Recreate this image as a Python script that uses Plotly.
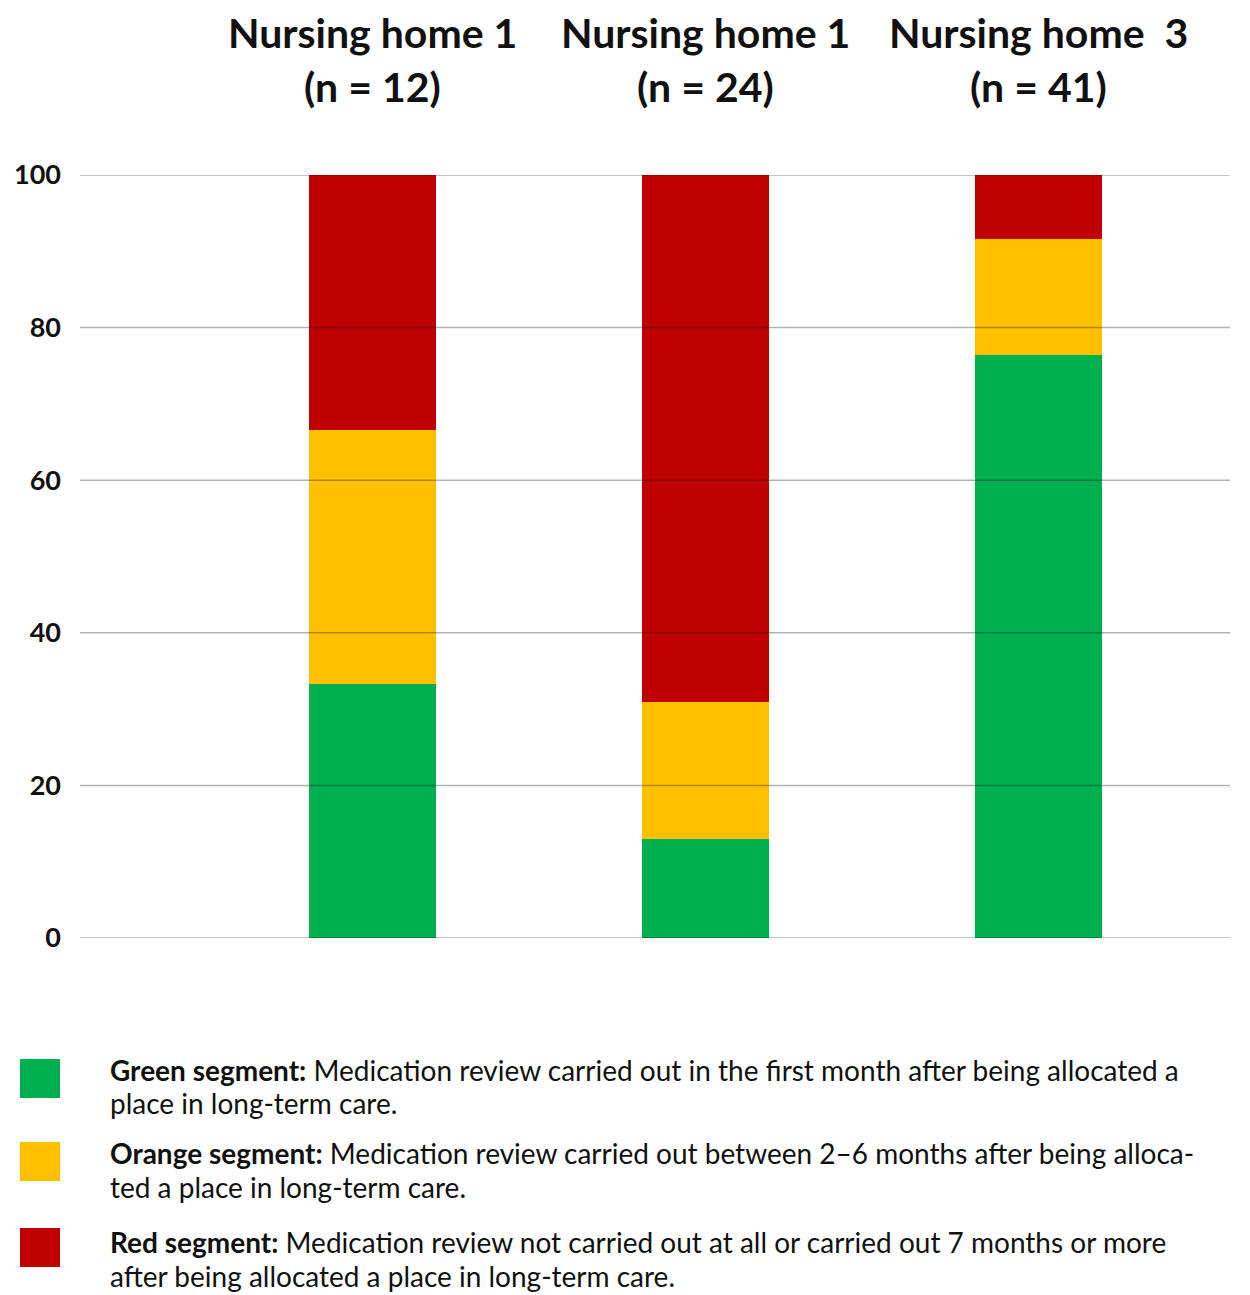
import plotly.graph_objects as go

# Stacked percentages per nursing home
homes = ["Nursing home 1", "Nursing home 1", "Nursing home  3"]
n_residents = [12, 24, 41]
green_pct = [33.3, 13.0, 76.4]
orange_pct = [33.3, 17.9, 15.2]
red_pct = [33.4, 69.1, 8.4]

y_ticks = [0, 20, 40, 60, 80, 100]

legend_items = [
    ("Green segment:",
     ["Medication review carried out in the first month after being allocated a",
      "place in long-term care."]),
    ("Orange segment:",
     ["Medication review carried out between 2\u20136 months after being alloca-",
      "ted a place in long-term care."]),
    ("Red segment:",
     ["Medication review not carried out at all or carried out 7 months or more",
      "after being allocated a place in long-term care."]),
]

colors = {"green": "#00B050", "orange": "#FFC000", "red": "#C00000"}
FONT = "Lato, 'Open Sans', sans-serif"

W, H = 1232, 1295
L, R, T, B = 80, 2, 175, 357
plot_h = H - T - B


def py(pixel_y):
    """Convert a page pixel row to paper y."""
    return (H - B - pixel_y) / plot_h


def px(pixel_x):
    return (pixel_x - L) / (W - L - R)


x_pos = list(range(len(homes)))

fig = go.Figure()
for name, vals in [("green", green_pct), ("orange", orange_pct), ("red", red_pct)]:
    fig.add_trace(go.Bar(
        x=x_pos, y=vals, name=name, width=0.381,
        marker=dict(color=colors[name], line=dict(width=0)),
        showlegend=False,
    ))

# Gridlines drawn over the bars, semi-transparent
shapes = []
for t in y_ticks:
    shapes.append(dict(type="line", xref="paper", yref="y", x0=0, x1=1, y0=t, y1=t,
                       line=dict(color="rgba(0,0,0,0.3)", width=1.5), layer="above"))

annotations = []
# Column headings
for i, (h, n) in enumerate(zip(homes, n_residents)):
    annotations.append(dict(x=i, xref="x", y=py(33), yref="paper", text=f"<b>{h}</b>",
                            showarrow=False, xanchor="center", yanchor="middle",
                            font=dict(family=FONT, size=41, color="#111111")))
    annotations.append(dict(x=i, xref="x", y=py(87), yref="paper", text=f"<b>(n = {n})</b>",
                            showarrow=False, xanchor="center", yanchor="middle",
                            font=dict(family=FONT, size=41, color="#111111")))

# Legend: colour squares plus descriptive text
square_tops = [1059, 1142, 1228]
line_rows = [(1070, 1103), (1153, 1187), (1242, 1276)]
for (label, lines), key, top, rows in zip(legend_items, ["green", "orange", "red"],
                                          square_tops, line_rows):
    shapes.append(dict(type="rect", xref="paper", yref="paper",
                       x0=px(20), x1=px(60), y0=py(top + 39), y1=py(top),
                       fillcolor=colors[key], line=dict(width=0)))
    annotations.append(dict(x=px(108), xref="paper", y=py(rows[0]), yref="paper",
                            text=f"<b>{label}</b> {lines[0]}", showarrow=False,
                            xanchor="left", yanchor="middle",
                            font=dict(family=FONT, size=28, color="#111111")))
    annotations.append(dict(x=px(108), xref="paper", y=py(rows[1]), yref="paper",
                            text=lines[1], showarrow=False,
                            xanchor="left", yanchor="middle",
                            font=dict(family=FONT, size=28, color="#111111")))

fig.update_layout(
    width=W, height=H,
    margin=dict(l=L, r=R, t=T, b=B),
    barmode="stack",
    plot_bgcolor="white", paper_bgcolor="white",
    shapes=shapes, annotations=annotations,
    xaxis=dict(range=[-0.876, 2.574], showticklabels=False, showgrid=False,
               zeroline=False, showline=False, fixedrange=True),
    yaxis=dict(range=[0, 100], tickvals=y_ticks, ticktext=[str(t) for t in y_ticks],
               showgrid=False, zeroline=False, showline=False, ticks="",
               ticklabelstandoff=18,
               tickfont=dict(family=FONT, size=27, color="#111111", weight="bold")),
)

fig.write_html("out.html")
